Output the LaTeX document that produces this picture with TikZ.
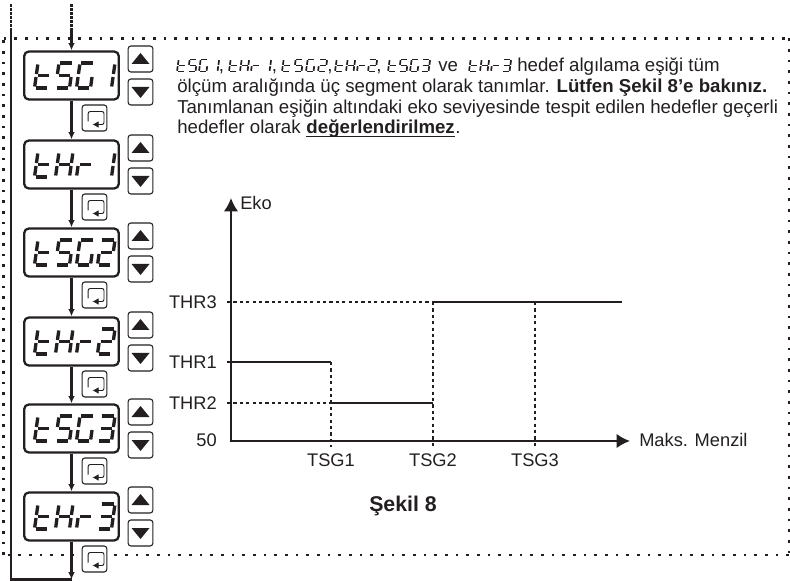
\documentclass[tikz,border=0pt]{standalone}
\usepackage{fontspec}
\setmainfont{Liberation Sans}
\usetikzlibrary{arrows.meta}
\definecolor{ink}{HTML}{231F20}
% seven-segment strokes, in a unit cell
\newcommand{\sega}{\draw (.10,1)--(.90,1);}
\newcommand{\segb}{\draw (1,.94)--(1,.56);}
\newcommand{\segc}{\draw (1,.44)--(1,.06);}
\newcommand{\segd}{\draw (.10,0)--(.90,0);}
\newcommand{\sege}{\draw (0,.44)--(0,.06);}
\newcommand{\segf}{\draw (0,.94)--(0,.56);}
\newcommand{\segg}{\draw (.10,.5)--(.90,.5);}
\newcommand{\glyt}{d,e,f,g}
\newcommand{\glyS}{a,f,g,c,d}
\newcommand{\glyG}{a,f,e,d,c}
\newcommand{\glyH}{b,c,e,f,g}
\newcommand{\glyr}{e,g}
\newcommand{\glyone}{b,c}
\newcommand{\glytwo}{a,b,g,e,d}
\newcommand{\glythree}{a,b,g,c,d}
% #1 x, #2 baseline y, #3 w, #4 h, #5 pitch, #6 stroke, #7 glyphs
\newcommand{\lcdword}[7]{%
  \edef\wordlist{#7}%
  \foreach \gl [count=\gi from 0] in \wordlist {%
    \begin{scope}[shift={({#1+\gi*#5},#2)},x={(#3*0.75pt,0pt)},y={(0.14*#4*0.75pt,#4*0.75pt)},line width=#6*0.75pt,draw=ink,line cap=butt]
      \expandafter\let\expandafter\thisgl\csname gly\gl\endcsname
      \foreach \sg in \thisgl {\csname seg\sg\endcsname}
    \end{scope}
  }%
}
\newcommand{\bigword}[2]{\lcdword{34.5}{#1+37}{14}{25}{21}{3.3}{#2}}
\newcommand{\smallword}[3]{\lcdword{#1}{71.5}{7.5}{12}{#2}{1.7}{#3}}
\tikzset{
  px/.style={x=0.75pt,y=-0.75pt},
  txt/.style={font=\fontsize{14}{16}\selectfont,text=ink,inner sep=0pt,anchor=base west},
  lab/.style={font=\fontsize{13.7}{16}\selectfont,text=ink,inner sep=0pt},
  hidden/.style={text opacity=0,inner sep=0pt,font=\fontsize{8}{9}\selectfont},
  frame/.style={draw=ink,line width=2pt,dash pattern=on 2pt off 6pt},
  lcdbox/.style={draw=ink,fill=white,line width=1.7pt,rounded corners=3.5pt,minimum width=71pt,minimum height=36pt,inner sep=0pt,text opacity=0,font=\fontsize{18}{20}\selectfont},
  btn/.style={draw=ink,fill=white,line width=.8pt,rounded corners=2pt,minimum width=18.5pt,minimum height=19.5pt,inner sep=0pt},
  flow/.style={draw=ink,line width=1.6pt,-{Latex[length=5.5pt,width=5pt]}},
  flowline/.style={draw=ink,line width=1.6pt},
  stub/.style={draw=ink,line width=2.1pt,dash pattern=on 1.9pt off 1.1pt},
  axis/.style={draw=ink,line width=1.9pt,-{Latex[length=10pt,width=11pt]}},
  level/.style={draw=ink,line width=.9pt},
  guide/.style={draw=ink,line width=.9pt,dash pattern=on 2.4pt off 2.4pt},
  tri/.style={fill=ink,draw=none}
}
\begin{document}
\begin{tikzpicture}[px]
\useasboundingbox (0,0) rectangle (790,581);
% dotted frame
\coordinate (fa) at (3.5,38.5);
\coordinate (fb) at (789,38.5);
\coordinate (fc) at (789,555);
\coordinate (fd) at (3.5,555);
\draw[frame] (fa) -- (fb);
\draw[frame] (fb) -- (fc);
\draw[frame] (fc) -- (fd);
\draw[frame] (fd) -- (fa);
% inputs
\coordinate (topin) at (71.5,4);
\coordinate (topmid) at (71.5,30);
\coordinate (leftin) at (11,4);
\coordinate (leftmid) at (11,29);
\coordinate (corner) at (11,579.5);
\coordinate (bottom) at (71.5,579.5);
\draw[stub] (topin) -- (topmid);
\draw[stub] (leftin) -- (leftmid);
\draw[flowline] (leftmid) -- (corner) -- (bottom);
% displays, buttons
\foreach \n/\ty/\txt/\word in {
  1/51/tSG1/{t,S,G,one},
  2/140/tHr1/{t,H,r,one},
  3/228/tSG2/{t,S,G,two},
  4/317/tHr2/{t,H,r,two},
  5/404/tSG3/{t,S,G,three},
  6/492/tHr3/{t,H,r,three}}{
  \node[lcdbox] (d\n) at (71.5,\ty+24.5) {\txt};
  \bigword{\ty}{\word}
  \node[btn] (up\n) at (140.5,\ty+8) {};
  \node[btn] (dn\n) at (140.5,\ty+41) {};
  \path[tri] ([shift={(0,-6)}]up\n.center) -- ([shift={(9,5)}]up\n.center) -- ([shift={(-9,5)}]up\n.center) -- cycle;
  \path[tri] ([shift={(0,6)}]dn\n.center) -- ([shift={(9,-5)}]dn\n.center) -- ([shift={(-9,-5)}]dn\n.center) -- cycle;
  \node[btn] (lp\n) at (94.5,\ty+67) {};
  \draw[draw=ink,line width=.7pt,rounded corners=1.5pt,-{Latex[length=4.5pt,width=5pt]}]
    ([shift={(-6.3,3.5)}]lp\n.center) -- ([shift={(-6.3,-6.5)}]lp\n.center) -- ([shift={(9.5,-6.5)}]lp\n.center) -- ([shift={(9.5,6.5)}]lp\n.center) -- ([shift={(-2,6.5)}]lp\n.center);
}
\draw[flow] (topmid) -- (d1.north);
\foreach \a/\b in {1/2,2/3,3/4,4/5,5/6}{
  \draw[flow] (d\a.south) -- (d\b.north);
}
\draw[flow] (d6.south) -- (bottom);
% paragraph
\node[hidden] (s1) at (197,66) {tSG1};
\node[txt] (c1) at (218.5,71.5) {,};
\node[hidden] (s2) at (250,66) {tHr1};
\node[txt] (c2) at (271.5,71.5) {,};
\node[hidden] (s3) at (304,66) {tSG2};
\node[txt] (c3) at (327,71.5) {,};
\node[hidden] (s4) at (355,66) {tHr2};
\node[txt] (c4) at (376,71.5) {,};
\node[hidden] (s5) at (408,66) {tSG3};
\node[hidden] (s6) at (489,66) {tHr3};
\smallword{177}{11}{t,S,G,one}
\smallword{229}{11}{t,H,r,one}
\smallword{282}{12}{t,S,G,two}
\smallword{335}{11}{t,H,r,two}
\smallword{388}{11}{t,S,G,three}
\smallword{469}{11}{t,H,r,three}
\node[txt] (ve) at (438,72) {ve};
\node[txt] (l1) at (517,72) {hedef algılama eşiği tüm};
\node[txt] (l2) at (177,93) {ölçüm aralığında üç segment olarak tanımlar. \textbf{Lütfen Şekil 8’e bakınız.}};
\node[txt] (l3) at (177,113.5) {Tanımlanan eşiğin altındaki eko seviyesinde tespit edilen hedefler geçerli};
\node[txt] (l4a) at (177,134) {hedefler olarak};
\node[txt,font=\fontsize{14}{16}\selectfont\bfseries] (l4b) at ([xshift=3.9pt]l4a.base east) {değerlendirilmez};
\node[txt] (l4c) at (l4b.base east) {.};
\draw[draw=ink,line width=1.1pt] ([yshift=-2pt]l4b.base west) -- ([yshift=-2pt]l4b.base east);
% chart
\coordinate (o) at (231,441);
\coordinate (ytop) at (231,198);
\coordinate (xend) at (630,441);
\coordinate (t1b) at (331,447);
\coordinate (t2b) at (433,447);
\coordinate (t3b) at (535,447);
\coordinate (y3) at (227,302);
\coordinate (y1) at (227,362);
\coordinate (y2) at (227,403);
\coordinate (a3) at (433,302);
\coordinate (e3) at (622,302);
\coordinate (m3) at (535,302);
\coordinate (a1) at (331,362);
\coordinate (a2) at (331,403);
\coordinate (b2) at (433,403);
\draw[guide] (y3) -- (a3);
\draw[guide] (y2) -- (a2);
\draw[guide] (a1) -- (t1b);
\draw[guide] (a3) -- (t2b);
\draw[guide] (m3) -- (t3b);
\draw[level] (y1) -- (a1);
\draw[level] (a2) -- (b2);
\draw[level] (a3) -- (e3);
\draw[axis] ([shift={(0,.8)}]o) -- (ytop);
\draw[axis] (o) -- (xend);
\node[lab,anchor=west] (eko) at (240,203) {Eko};
\node[lab,anchor=west] (maks) at (639,440) {Maks. Menzil};
\node[lab,anchor=east] (thr3) at (217,302) {THR3};
\node[lab,anchor=east] (thr1) at (217,362) {THR1};
\node[lab,anchor=east] (thr2) at (217,403) {THR2};
\node[lab,anchor=east] (fifty) at (217,440) {50};
\node[lab] (tsg1) at (331,460) {TSG1};
\node[lab] (tsg2) at (433,460) {TSG2};
\node[lab] (tsg3) at (535,460) {TSG3};
\node[lab,anchor=base west,font=\fontsize{16}{18}\selectfont\bfseries] (sek) at (369,511.5) {Şekil 8};
\end{tikzpicture}
\end{document}
